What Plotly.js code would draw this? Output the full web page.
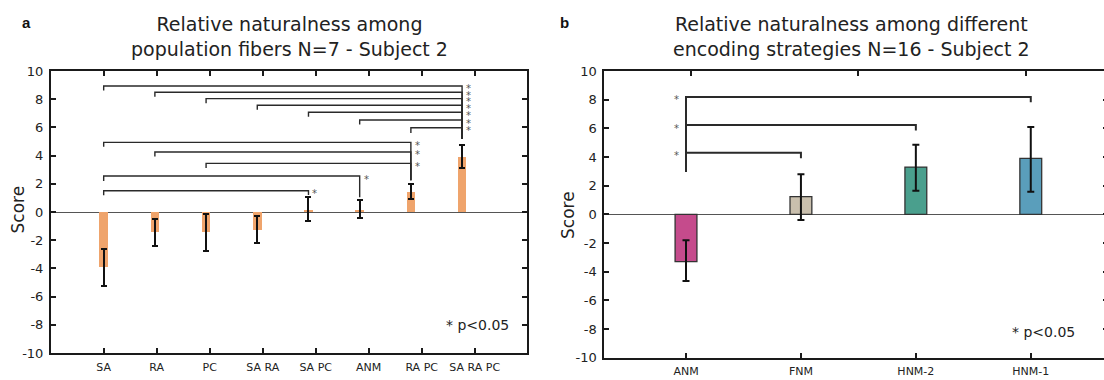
<!DOCTYPE html>
<html>
<head>
<meta charset="utf-8">
<script src="https://cdn.plot.ly/plotly-3.0.1.min.js"></script>
<style>
html,body{margin:0;padding:0;overflow:hidden;background:#fff;}
#chart{width:1112px;height:380px;}
</style>
</head>
<body>
<div id="chart"></div>
<script>
// ---------- Panel a data ----------
const catsA = ['SA', 'RA', 'PC', 'SA RA', 'SA PC', 'ANM', 'RA PC', 'SA RA PC'];
const meanA = [-3.93, -1.43, -1.43, -1.26, 0.17, 0.15, 1.42, 3.92];
const errUpA = [1.31, 0.95, 1.31, 0.95, 0.88, 0.68, 0.54, 0.86];
const errDnA = [1.31, 0.95, 1.33, 0.93, 0.81, 0.58, 0.52, 0.78];
// significance brackets (panel a)
const brFromA = ['SA', 'RA', 'PC', 'SA RA', 'SA PC', 'ANM', 'RA PC', 'SA', 'RA', 'PC', 'SA', 'SA'];
const brToA = ['SA RA PC', 'SA RA PC', 'SA RA PC', 'SA RA PC', 'SA RA PC', 'SA RA PC', 'SA RA PC', 'RA PC', 'RA PC', 'RA PC', 'ANM', 'SA PC'];
const brLevelA = [8.94, 8.49, 8.04, 7.57, 7.07, 6.52, 5.98, 4.94, 4.26, 3.45, 2.55, 1.51];
const brFromEndA = [8.62, 8.17, 7.72, 7.25, 6.75, 6.2, 5.6, 4.62, 3.94, 3.12, 2.2, 1.19];
const brToEndA = [5.2, 5.2, 5.2, 5.2, 5.2, 5.2, 5.2, 2.25, 2.25, 2.25, 1.05, 1.2];

// ---------- Panel b data ----------
const catsB = ['ANM', 'FNM', 'HNM-2', 'HNM-1'];
const meanB = [-3.3, 1.23, 3.3, 3.9];
const errUpB = [1.5, 1.56, 1.56, 2.19];
const errDnB = [1.35, 1.63, 1.65, 2.32];
const colorsB = ['#C54B8C', '#C9BFAD', '#4A9F8D', '#5A9EBB'];
const brFromB = ['ANM', 'ANM', 'ANM'];
const brToB = ['HNM-1', 'HNM-2', 'FNM'];
const brLevelB = [8.19, 6.23, 4.3];
const brFromEndB = [2.95, 2.95, 2.95];
const brToEndB = [7.82, 5.85, 3.92];

// ---------- y tick labels (plain hyphen minus, as in the figure) ----------
const yTickVals = [-10, -8, -6, -4, -2, 0, 2, 4, 6, 8, 10];
const yTickText = ['-10', '-8', '-6', '-4', '-2', '0', '2', '4', '6', '8', '10'];

const W = 1112, H = 380;
const px = v => v / W;
const py = v => 1 - v / H;
const FONT = 'DejaVu Sans, Arial, sans-serif';
const INK = '#1a1a1a';

function bracketTrace(from, to, level, fromEnd, toEnd, xa, ya, w) {
  const xs = [], ys = [];
  for (let i = 0; i < from.length; i++) {
    xs.push(from[i], from[i], to[i], to[i], null);
    ys.push(fromEnd[i], level[i], level[i], toEnd[i], null);
  }
  return {type: 'scatter', mode: 'lines', x: xs, y: ys, xaxis: xa, yaxis: ya,
    line: {color: '#2a2a2a', width: w}, hoverinfo: 'skip', showlegend: false, connectgaps: false};
}

const traces = [
  {type: 'bar', x: catsA, y: meanA, xaxis: 'x', yaxis: 'y', width: 0.17,
   marker: {color: '#EFA46C', line: {width: 0}},
   error_y: {type: 'data', symmetric: false, array: errUpA, arrayminus: errDnA,
             color: '#111', thickness: 2, width: 3},
   showlegend: false, hoverinfo: 'skip'},
  bracketTrace(brFromA, brToA, brLevelA, brFromEndA, brToEndA, 'x', 'y', 1.4),
  {type: 'bar', x: catsB, y: meanB, xaxis: 'x2', yaxis: 'y2', width: 0.19,
   marker: {color: colorsB, line: {color: '#333', width: 1.3}},
   error_y: {type: 'data', symmetric: false, array: errUpB, arrayminus: errDnB,
             color: '#111', thickness: 2, width: 3.5},
   showlegend: false, hoverinfo: 'skip'},
  bracketTrace(brFromB, brToB, brLevelB, brFromEndB, brToEndB, 'x2', 'y2', 2),
  // empty traces so the tick-only overlay axes get drawn
  {type: 'scatter', x: [], y: [], xaxis: 'x3', yaxis: 'y', showlegend: false, hoverinfo: 'skip'},
  {type: 'scatter', x: [], y: [], xaxis: 'x4', yaxis: 'y2', showlegend: false, hoverinfo: 'skip'}
];

const annotations = [];
function ann(o) { annotations.push(Object.assign({showarrow: false, font: {family: FONT, size: 13, color: '#222'}}, o)); }

// titles
ann({xref: 'paper', yref: 'paper', x: px(289), y: py(37), xanchor: 'center', yanchor: 'middle',
     text: 'Relative naturalness among<br>population fibers N=7 - Subject 2', font: {family: FONT, size: 19, color: '#222'}});
ann({xref: 'paper', yref: 'paper', x: px(851), y: py(37), xanchor: 'center', yanchor: 'middle',
     text: 'Relative naturalness among different<br>encoding strategies N=16 - Subject 2', font: {family: FONT, size: 19, color: '#222'}});
// panel letters
ann({xref: 'paper', yref: 'paper', x: px(26), y: py(23), xanchor: 'center', yanchor: 'middle',
     text: '<b>a</b>', font: {family: 'Liberation Sans, Arial, sans-serif', size: 15, color: '#111'}});
ann({xref: 'paper', yref: 'paper', x: px(564), y: py(23), xanchor: 'center', yanchor: 'middle',
     text: '<b>b</b>', font: {family: 'Liberation Sans, Arial, sans-serif', size: 15, color: '#111'}});
// y titles
ann({xref: 'paper', yref: 'paper', x: px(17.5), y: py(210), xanchor: 'center', yanchor: 'middle', textangle: -90,
     text: 'Score', font: {family: FONT, size: 17, color: '#222'}});
ann({xref: 'paper', yref: 'paper', x: px(568), y: py(215), xanchor: 'center', yanchor: 'middle', textangle: -90,
     text: 'Score', font: {family: FONT, size: 17, color: '#222'}});
// p-value notes
ann({xref: 'paper', yref: 'paper', x: px(477), y: py(325), xanchor: 'center', yanchor: 'middle',
     text: '* p<0.05', font: {family: FONT, size: 14, color: '#222'}});
ann({xref: 'paper', yref: 'paper', x: px(1043), y: py(332), xanchor: 'center', yanchor: 'middle',
     text: '* p<0.05', font: {family: FONT, size: 14, color: '#222'}});
// asterisks
for (let i = 0; i < brToA.length; i++) {
  ann({xref: 'x', yref: 'y', x: catsA.indexOf(brToA[i]), y: brLevelA[i], xanchor: 'left', yanchor: 'middle',
       xshift: 2, yshift: -3, text: '*', font: {family: FONT, size: 10, color: '#555'}});
}
for (let i = 0; i < brFromB.length; i++) {
  ann({xref: 'x2', yref: 'y2', x: catsB.indexOf(brFromB[i]), y: brLevelB[i], xanchor: 'right', yanchor: 'middle',
       xshift: -5, yshift: -3, text: '*', font: {family: FONT, size: 10, color: '#555'}});
}

const tickFont = {family: FONT, size: 13, color: '#222'};
const yCommon = {range: [-10, 10], tickvals: yTickVals, ticktext: yTickText, ticks: 'inside', ticklen: 5, tickwidth: 2, tickcolor: INK,
  showline: true, linewidth: 2, linecolor: INK, mirror: 'ticks', showgrid: false, ticklabelstandoff: 3,
  zeroline: true, zerolinecolor: '#555', zerolinewidth: 1, tickfont: tickFont, fixedrange: true};

const layout = {
  width: W, height: H,
  margin: {l: 0, r: 0, t: 0, b: 0},
  paper_bgcolor: '#fff', plot_bgcolor: 'rgba(0,0,0,0)',
  showlegend: false, bargap: 0,
  xaxis: {domain: [px(51), px(527)], anchor: 'y', type: 'category', categoryarray: catsA,
    range: [-1.029, 8.268], showline: true, linewidth: 2, linecolor: INK, mirror: true,
    ticks: '', showticklabels: false, showgrid: false, zeroline: false, fixedrange: true},
  xaxis3: {domain: [px(51), px(527)], anchor: 'y', overlaying: 'x', type: 'linear',
    range: [-0.994, 7.987], tickvals: catsA.map((c, i) => i), ticktext: catsA,
    ticks: 'inside', ticklen: 5, tickwidth: 2, tickcolor: INK, showline: true, linewidth: 2, linecolor: INK,
    mirror: 'ticks', showgrid: false, zeroline: false, ticklabelstandoff: 3,
    tickfont: {family: FONT, size: 11, color: '#222'}, fixedrange: true},
  yaxis: Object.assign({domain: [py(353), py(71)], anchor: 'x'}, yCommon),
  xaxis2: {domain: [px(604.3), px(1108)], anchor: 'y2', type: 'category', categoryarray: catsB,
    range: [-0.711, 3.672], ticks: 'inside', ticklen: 5, tickwidth: 2, tickcolor: INK,
    showline: true, linewidth: 2, linecolor: INK, mirror: true, showgrid: false, zeroline: false,
    ticklabelstandoff: 2, tickfont: {family: FONT, size: 11, color: '#222'}, fixedrange: true},
  xaxis4: {domain: [px(604.3), px(1108)], anchor: 'y2', overlaying: 'x2', side: 'top', type: 'linear',
    range: [-0.515, 2.491], tick0: 0, dtick: 1, ticks: 'inside', ticklen: 5, tickwidth: 2, tickcolor: INK,
    showline: false, showticklabels: false, showgrid: false, zeroline: false, fixedrange: true},
  yaxis2: Object.assign({domain: [py(357.7), py(71)], anchor: 'x2'}, yCommon),
  annotations: annotations
};

Plotly.newPlot('chart', traces, layout, {displayModeBar: false, staticPlot: true});
</script>
</body>
</html>
